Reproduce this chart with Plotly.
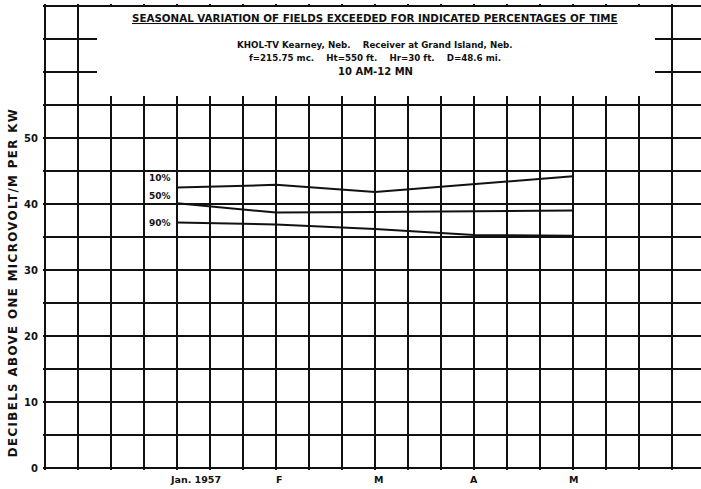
import plotly.graph_objects as go

# ---- data ----
months = [1, 2, 3, 4, 5]
month_labels = ["Jan. 1957", "F", "M", "A", "M"]
series_names = ["10%", "50%", "90%"]
pct10 = [42.5, 42.9, 41.8, 43.0, 44.2]
pct50 = [40.1, 38.7, 38.8, 38.9, 39.0]
pct90 = [37.2, 36.9, 36.2, 35.3, 35.2]
y_tick_vals = [0, 5, 10, 15, 20, 25, 30, 35, 40, 45, 50, 55, 60, 65, 70]
y_tick_text = ["0", "", "10", "", "20", "", "30", "", "40", "", "50", "", "", "", ""]

title = "SEASONAL VARIATION OF FIELDS EXCEEDED FOR INDICATED PERCENTAGES OF TIME"
sub1 = "KHOL-TV Kearney, Neb.&nbsp;&nbsp;&nbsp;&nbsp;Receiver at Grand Island, Neb."
sub2 = "f=215.75 mc.&nbsp;&nbsp;&nbsp;&nbsp;Ht=550 ft.&nbsp;&nbsp;&nbsp;&nbsp;Hr=30 ft.&nbsp;&nbsp;&nbsp;&nbsp;D=48.6 mi."
sub3 = "10 AM-12 MN"
ytitle = "DECIBELS ABOVE ONE MICROVOLT/M PER KW"

# ---- geometry (pixels per unit) ----
PX_X = 99.0   # one month
PX_Y = 6.6    # one dB
W, H = 701, 489
L, T, B = 43, 4, 19
x_frame = -1 / 3
xmin = x_frame - 2 / PX_X
xmax = x_frame + (W - 45) / PX_X
ymin = -2 / PX_Y
ymax = (468 - T) / PX_Y

FONT = "DejaVu Sans"
BLACK = "#111111"

fig = go.Figure()
for name, vals in zip(series_names, [pct10, pct50, pct90]):
    fig.add_trace(go.Scatter(x=months, y=vals, mode="lines", name=name,
                             line=dict(color=BLACK, width=2), showlegend=False))

x_grid = [x_frame + i / 3 for i in range(21)]
fig.update_xaxes(range=[xmin, xmax], tickvals=x_grid, showticklabels=False,
                 showgrid=True, gridcolor=BLACK, gridwidth=2, zeroline=False,
                 showline=False, ticks="", fixedrange=True)
fig.update_yaxes(range=[ymin, ymax], tickvals=y_tick_vals, ticktext=y_tick_text,
                 showgrid=True, gridcolor=BLACK, gridwidth=2, zeroline=False,
                 showline=False, ticks="", ticklabelstandoff=4,
                 tickfont=dict(family=FONT, size=10, color=BLACK, weight="bold"),
                 fixedrange=True)

# white title panel covering the grid
fig.add_shape(type="rect", xref="x", yref="y",
              x0=x_frame + (97 - 45) / PX_X, x1=x_frame + (655 - 45) / PX_X,
              y0=(468 - 96) / PX_Y, y1=(468 - 7) / PX_Y,
              fillcolor="white", line=dict(width=0), layer="above")

ann = []
ann.append(dict(x=3, y=(468 - 18) / PX_Y, text="<u>" + title + "</u>", showarrow=False,
                font=dict(family=FONT, size=10.3, color=BLACK, weight="bold")))
for txt, py, fs in [(sub1, 45, 8.7), (sub2, 58, 8.7), (sub3, 71, 10)]:
    ann.append(dict(x=3, y=(468 - py) / PX_Y, text=txt, showarrow=False,
                    font=dict(family=FONT, size=fs, color=BLACK, weight="bold")))
# month labels
shifts = [18, 3, 3, 0, 0]
for m, lab, s in zip(months, month_labels, shifts):
    ann.append(dict(x=m, y=0, text=lab, showarrow=False, xshift=s, yshift=-11,
                    font=dict(family=FONT, size=9.5, color=BLACK, weight="bold")))
# series labels
yshifts = [10, 7, -1]
for name, vals, ys in zip(series_names, [pct10, pct50, pct90], yshifts):
    ann.append(dict(x=months[0], y=vals[0], text=name, showarrow=False, xanchor="right",
                    xshift=-4, yshift=ys,
                    font=dict(family=FONT, size=9, color=BLACK, weight="bold")))
# y-axis title
ann.append(dict(xref="paper", yref="y", x=(13 - L) / (W - L), y=28.0,
                text='<span style="letter-spacing:1.4px">' + ytitle + '</span>',
                textangle=-90, showarrow=False, xanchor="center", yanchor="middle",
                font=dict(family=FONT, size=11.8, color=BLACK, weight="bold")))

fig.update_layout(width=W, height=H, margin=dict(l=L, r=0, t=T, b=B, autoexpand=False),
                  paper_bgcolor="white", plot_bgcolor="white", annotations=ann,
                  showlegend=False)

fig.write_html("out.html", config={"displayModeBar": False},
               post_script="document.body.style.margin='0';")
